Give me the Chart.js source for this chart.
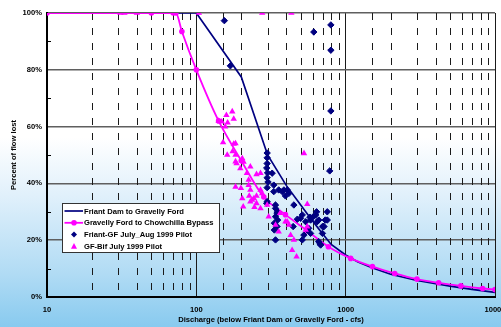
<!DOCTYPE html>
<html>
<head>
<meta charset="utf-8">
<script src="https://cdn.jsdelivr.net/npm/chart.js@4.4.1/dist/chart.umd.min.js"></script>
<style>
  html, body { margin: 0; padding: 0; width: 501px; height: 327px; overflow: hidden;
    background: linear-gradient(to bottom, #ffffff 0%, #ffffff 42%, #e0f0fb 60%, #b0dbf4 84%, #88caef 100%); }
  #wrap { width: 525px; height: 327px; position: relative; }
</style>
</head>
<body>
<div id="wrap"><canvas id="c" width="525" height="327"></canvas></div>
<script>
// Seepage loss curves: discharge (cfs) vs percent of flow lost
const seriesNames = [
  'Friant Dam to Gravelly Ford',
  'Gravelly Ford to Chowchilla Bypass',
  'Friant-GF July_Aug 1999 Pilot',
  'GF-Bif July 1999 Pilot'
];

// Loss curve, Friant Dam to Gravelly Ford  [cfs, % lost]
const friantCurve = [
  [10, 100], [100, 100], [200, 77.5], [300, 50], [400, 39.3], [500, 32.4],
  [600, 26.8], [700, 22.3], [800, 18.5], [1000, 14.8], [1200, 12.4], [1500, 10.3],
  [2000, 8.0], [3000, 5.8], [5000, 3.8], [7000, 2.7], [10000, 1.6]
];

// Loss curve, Gravelly Ford to Chowchilla Bypass  [cfs, % lost]
const gravellyCurve = [
  [10, 100], [50, 100], [70, 100], [73, 100], [80, 93.5], [100, 80], [141, 62],
  [200, 48], [283, 35.2], [395, 29], [553, 23.3], [766, 17.7], [1080, 13.6],
  [1510, 10.7], [2130, 8.3], [3000, 6.3], [4190, 5.0], [5910, 3.9], [8260, 3.0], [10000, 2.6]
];

// Pilot measurements, Friant - Gravelly Ford, July-Aug 1999  [cfs, % lost]
const friantPilot = [
  [154, 97.3], [169, 81.4], [612, 93.3], [796, 95.8], [796, 86.9], [796, 65.5], [782, 44.4],
  [298, 50.7], [298, 49], [298, 47], [296, 45.4], [300, 43.7], [298, 42], [302, 40.5],
  [298, 38.5], [298, 33.6], [296, 33],
  [322, 43.6], [330, 39.4], [356, 37.7], [330, 37.1], [376, 37.1], [386, 37.7], [406, 37.7],
  [417, 36.5], [395, 35.6],
  [339, 32.4], [339, 31.2], [350, 30], [347, 29.5], [339, 28.3], [350, 27.1], [333, 26],
  [347, 24.8], [333, 23.6], [339, 20.1],
  [450, 32.4], [475, 27.4], [499, 27.7], [512, 28.9], [445, 24.8], [540, 26.5], [525, 21.8],
  [553, 23.6], [565, 24.2], [582, 27.1], [582, 22.4], [512, 20.1], [576, 28.1], [607, 28.3],
  [630, 28.9], [639, 30], [644, 26.5], [660, 27.1], [730, 27.1], [753, 30], [753, 27.1],
  [699, 24.8], [716, 24.8], [699, 22.4], [660, 19.5], [673, 18.7], [680, 18.3]
];

// Pilot measurements, Gravelly Ford - Bifurcation, July 1999  [cfs, % lost]
const gfBifPilot = [
  [31, 100], [33, 100], [40, 100], [104, 100], [276, 100], [433, 100],
  [141, 62], [148, 61.7], [159, 64], [174, 65.3], [178, 62.7], [162, 61.4], [156, 60],
  [151, 54.4], [183, 54.1], [178, 53.9], [161, 50], [175, 51.3], [183, 50], [203, 48.8],
  [207, 47.6], [183, 47.7], [186, 47], [197, 45.3], [230, 45.9], [253, 43.2], [269, 43.6],
  [218, 43.6], [224, 41.2], [183, 38.8], [199, 38.3], [224, 39.4], [230, 37.7], [269, 37.7],
  [226, 35.6], [243, 34.7], [253, 35.6], [230, 33.6], [253, 33], [245, 31.6], [269, 31.2],
  [206, 31.8], [203, 34.7], [236, 34.2], [276, 36.5], [305, 28.3], [298, 32.4], [364, 29.5],
  [339, 25.4], [356, 23], [395, 26.5], [406, 26.5], [417, 25.4], [428, 21.8], [450, 20.1],
  [438, 16.5], [469, 14.2], [540, 23.6], [553, 32.7], [553, 24.8], [526, 50.6]
];

const xTickLabels = ['10', '100', '1000', '10000'];
const yMinorTicks = [10, 30, 50, 70, 90];
const xTitle = 'Discharge (below Friant Dam or Gravelly Ford - cfs)';
const yTitle = 'Percent of flow lost';

const NAVY = '#000080';
const MAGENTA = '#ff00ff';
const FONT = { family: '"Liberation Sans", Arial, sans-serif', size: 7.6, weight: 'bold' };

const toPoints = arr => arr.map(([x, y]) => ({ x, y }));
const isDecade = v => Math.abs(Math.log10(v) - Math.round(Math.log10(v))) < 1e-9;

// Dashed minor verticals, small inner y ticks and the boxed legend
const decorations = {
  id: 'decorations',
  beforeDatasetsDraw(chart) {
    const { ctx, chartArea: a, scales: { x, y } } = chart;
    ctx.save();
    // minor vertical grid lines (dashed)
    ctx.strokeStyle = '#1a1a1a';
    ctx.lineWidth = 1;
    ctx.setLineDash([7, 8]);
    x.ticks.forEach(t => {
      if (isDecade(t.value)) return;
      const px = Math.round(x.getPixelForValue(t.value)) + 0.5;
      ctx.beginPath();
      ctx.moveTo(px, a.top);
      ctx.lineTo(px, a.bottom);
      ctx.stroke();
    });
    ctx.setLineDash([]);
    // minor y ticks
    ctx.strokeStyle = '#000';
    yMinorTicks.forEach(v => {
      const py = Math.round(y.getPixelForValue(v)) + 0.5;
      ctx.beginPath();
      ctx.moveTo(a.left, py);
      ctx.lineTo(a.left + 4, py);
      ctx.stroke();
    });

    // legend
    const bx = a.left + 15, by = a.top + 190, bw = 157, bh = 49;
    ctx.fillStyle = '#ffffff';
    ctx.fillRect(bx, by, bw, bh);
    ctx.strokeStyle = '#333';
    ctx.lineWidth = 1;
    ctx.strokeRect(bx + 0.5, by + 0.5, bw, bh);
    ctx.font = `${FONT.weight} ${FONT.size}px ${FONT.family}`;
    ctx.textBaseline = 'middle';
    ctx.textAlign = 'left';
    const ds = chart.data.datasets;
    [0, 1, 2, 3].forEach((i, row) => {
      const d = ds[i];
      const cy = by + 8 + row * 11.8;
      const sx0 = bx + 2.5, sx1 = bx + 21, mx = bx + 12;
      if (d.showLine !== false && d.type !== 'scatter') {
        ctx.strokeStyle = d.borderColor;
        ctx.lineWidth = d.borderWidth;
        ctx.beginPath();
        ctx.moveTo(sx0, cy);
        ctx.lineTo(sx1, cy);
        ctx.stroke();
      }
      if (d.pointRadius > 0) {
        ctx.fillStyle = d.pointBackgroundColor;
        ctx.beginPath();
        const r = Math.min(d.pointRadius, 3);
        if (d.pointStyle === 'triangle') {
          ctx.moveTo(mx, cy - r * 1.1);
          ctx.lineTo(mx + r, cy + r * 0.75);
          ctx.lineTo(mx - r, cy + r * 0.75);
          ctx.closePath();
        } else if (d.pointStyle === 'rectRot') {
          ctx.moveTo(mx, cy - r);
          ctx.lineTo(mx + r, cy);
          ctx.lineTo(mx, cy + r);
          ctx.lineTo(mx - r, cy);
          ctx.closePath();
        } else {
          ctx.arc(mx, cy, r, 0, Math.PI * 2);
        }
        ctx.fill();
      }
      ctx.fillStyle = '#000';
      ctx.fillText(d.label, bx + 22, cy + 0.5);
    });
    ctx.restore();
  }
};

new Chart(document.getElementById('c'), {
  type: 'line',
  data: {
    datasets: [
      {
        label: seriesNames[0], data: toPoints(friantCurve),
        borderColor: NAVY, borderWidth: 1.7, pointRadius: 0, tension: 0, order: 3
      },
      {
        label: seriesNames[1], data: toPoints(gravellyCurve),
        borderColor: MAGENTA, borderWidth: 1.8, cubicInterpolationMode: 'monotone',
        pointRadius: 2.8, pointStyle: 'circle', pointBackgroundColor: MAGENTA,
        pointBorderColor: MAGENTA, pointBorderWidth: 0, order: 2
      },
      {
        type: 'scatter', label: seriesNames[2], data: toPoints(friantPilot), showLine: false,
        pointRadius: 3.2, pointStyle: 'rectRot', pointBackgroundColor: NAVY,
        pointBorderColor: NAVY, pointBorderWidth: 1, order: 1
      },
      {
        type: 'scatter', label: seriesNames[3], data: toPoints(gfBifPilot), showLine: false,
        pointRadius: 3.7, pointStyle: 'triangle', pointBackgroundColor: MAGENTA,
        pointBorderColor: MAGENTA, pointBorderWidth: 0, order: 0
      }
    ]
  },
  options: {
    responsive: false,
    animation: false,
    devicePixelRatio: 1,
    layout: { padding: { left: 0, top: 13, right: 30, bottom: 0 } },
    plugins: { legend: { display: false }, tooltip: { enabled: false } },
    scales: {
      x: {
        type: 'logarithmic', min: 10, max: 10000,
        afterFit(s) { s.height = 30; },
        grid: {
          drawTicks: false, lineWidth: 1,
          color: c => (c.tick && isDecade(c.tick.value)) ? '#1a1a1a' : 'rgba(0,0,0,0)'
        },
        border: { color: '#000', width: 2 },
        ticks: {
          autoSkip: false, maxRotation: 0, minRotation: 0, padding: 8, color: '#000', font: FONT,
          callback: v => xTickLabels.includes(String(v)) ? String(v) : ''
        },
        title: { display: true, text: xTitle, color: '#000', font: FONT, padding: { top: 0, bottom: 3 } }
      },
      y: {
        min: 0, max: 100,
        afterFit(s) { s.width = 47; },
        grid: { drawTicks: false, color: '#5f5f5f', lineWidth: 1.6 },
        border: { color: '#000', width: 2 },
        ticks: { stepSize: 20, padding: 5, color: '#000', font: FONT, callback: v => v + '%' },
        title: { display: true, text: yTitle, color: '#000', font: FONT, padding: { top: 9, bottom: 0 } }
      }
    }
  },
  plugins: [decorations]
});
</script>
</body>
</html>
